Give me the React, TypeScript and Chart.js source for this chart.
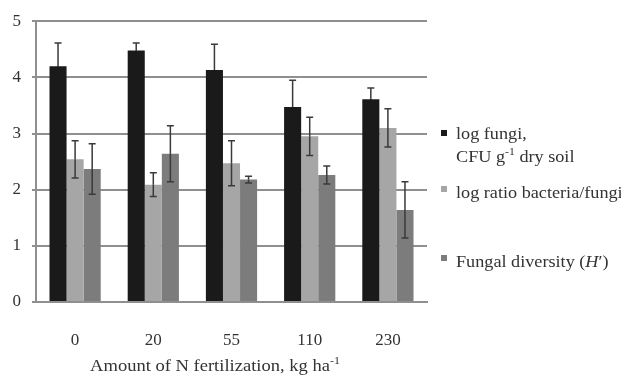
import React, { useEffect, useRef } from "react";
import { Chart, registerables } from "chart.js";
Chart.register(...registerables);

const categories = ["0", "20", "55", "110", "230"];
const logFungi = [4.2, 4.48, 4.13, 3.47, 3.61];
const logFungiErr = [0.41, 0.13, 0.46, 0.48, 0.2];
const logRatio = [2.54, 2.09, 2.47, 2.95, 3.1];
const logRatioErr = [0.33, 0.21, 0.4, 0.34, 0.34];
const diversity = [2.37, 2.64, 2.18, 2.26, 1.64];
const diversityErr = [0.45, 0.5, 0.06, 0.16, 0.5];
const yMin = 0;
const yMax = 5;
const yStep = 1;

const colors = ["#1a1a1a", "#a6a6a6", "#7c7c7c"];
const gridColor = "#8f8f8f";
const errColor = "#3a3a3a";
const serif = "'Liberation Serif', 'Times New Roman', serif";

const errorBarPlugin = {
  id: "errorBars",
  afterDatasetsDraw(chart: any) {
    const ctx = chart.ctx;
    const y = chart.scales.y;
    chart.data.datasets.forEach((ds: any, i: number) => {
      const meta = chart.getDatasetMeta(i);
      meta.data.forEach((el: any, j: number) => {
        const v = ds.data[j];
        const e = ds.errors[j];
        const x = el.x;
        const yv = y.getPixelForValue(v);
        const yt = y.getPixelForValue(v + e);
        const yb = y.getPixelForValue(v - e);
        ctx.save();
        ctx.lineWidth = 1.5;
        ctx.strokeStyle = errColor;
        ctx.beginPath();
        ctx.moveTo(x, yt);
        ctx.lineTo(x, yv);
        ctx.moveTo(x - 3.5, yt);
        ctx.lineTo(x + 3.5, yt);
        ctx.stroke();
        ctx.strokeStyle = ds.innerErrColor || errColor;
        ctx.beginPath();
        ctx.moveTo(x, yv);
        ctx.lineTo(x, yb);
        ctx.moveTo(x - 3.5, yb);
        ctx.lineTo(x + 3.5, yb);
        ctx.stroke();
        ctx.restore();
      });
    });
  },
};

export default function App() {
  const ref = useRef<HTMLCanvasElement | null>(null);

  useEffect(() => {
    document.body.style.margin = "0";
    const canvas = ref.current;
    if (!canvas) return;
    const mk = (label: string, data: number[], errors: number[], color: string, inner?: string) => ({
      label,
      data,
      errors,
      innerErrColor: inner,
      backgroundColor: color,
      borderWidth: 0,
      barPercentage: 1,
      categoryPercentage: 0.655,
    });
    const chart = new Chart(canvas, {
      type: "bar",
      data: {
        labels: categories,
        datasets: [
          mk("log fungi, CFU g-1 dry soil", logFungi, logFungiErr, colors[0], colors[0]),
          mk("log ratio bacteria/fungi", logRatio, logRatioErr, colors[1]),
          mk("Fungal diversity (H')", diversity, diversityErr, colors[2]),
        ] as any,
      },
      options: {
        animation: false,
        responsive: false,
        devicePixelRatio: 1,
        layout: { padding: { top: 21, right: 194, left: 0, bottom: 0 } },
        plugins: {
          legend: { display: false },
          tooltip: { enabled: false },
        },
        scales: {
          x: {
            grid: { display: false },
            border: { display: true, color: gridColor, width: 2 },
            ticks: {
              color: "#333",
              font: { family: serif, size: 17 },
              padding: 20,
              maxRotation: 0,
            },
            afterFit: (s: any) => {
              s.height = 74;
            },
          },
          y: {
            min: yMin,
            max: yMax,
            ticks: {
              stepSize: yStep,
              color: "#333",
              font: { family: serif, size: 17 },
              padding: 11,
            },
            grid: { color: gridColor, lineWidth: 2, tickLength: 4, drawTicks: true },
            border: { display: true, color: gridColor, width: 2 },
            afterFit: (s: any) => {
              s.width = 36;
            },
          },
        },
      } as any,
      plugins: [errorBarPlugin],
    });
    return () => chart.destroy();
  }, []);

  const legendText: React.CSSProperties = {
    position: "absolute",
    left: 456,
    fontFamily: serif,
    fontSize: 17,
    lineHeight: "23px",
    color: "#333",
    whiteSpace: "nowrap",
    transform: "scaleX(1.07)",
    transformOrigin: "0 0",
  };
  const sq = (top: number, color: string): React.CSSProperties => ({
    position: "absolute",
    left: 441,
    top,
    width: 6,
    height: 6,
    background: color,
  });
  const supStyle: React.CSSProperties = { fontSize: 11, verticalAlign: "7px", lineHeight: 0 };

  return (
    <div
      style={{
        position: "fixed",
        left: 0,
        top: 0,
        width: 621,
        height: 376,
        background: "#fff",
        overflow: "hidden",
      }}
    >
      <canvas ref={ref} width={621} height={376} style={{ width: 621, height: 376, display: "block" }} />
      <div style={sq(130, colors[0])} />
      <div style={{ ...legendText, top: 122 }}>
        log fungi,
        <br />
        CFU g<sup style={supStyle}>-1</sup> dry soil
      </div>
      <div style={sq(186, colors[1])} />
      <div style={{ ...legendText, top: 181 }}>log ratio bacteria/fungi</div>
      <div style={sq(255, colors[2])} />
      <div style={{ ...legendText, top: 250 }}>
        Fungal diversity (<i>H</i>′)
      </div>
      <div
        style={{
          position: "absolute",
          left: 215,
          top: 356,
          fontFamily: serif,
          fontSize: 17,
          lineHeight: "20px",
          color: "#333",
          whiteSpace: "nowrap",
          transform: "translateX(-50%) scaleX(1.09)",
          transformOrigin: "50% 0",
        }}
      >
        Amount of N fertilization, kg ha<sup style={supStyle}>-1</sup>
      </div>
    </div>
  );
}
